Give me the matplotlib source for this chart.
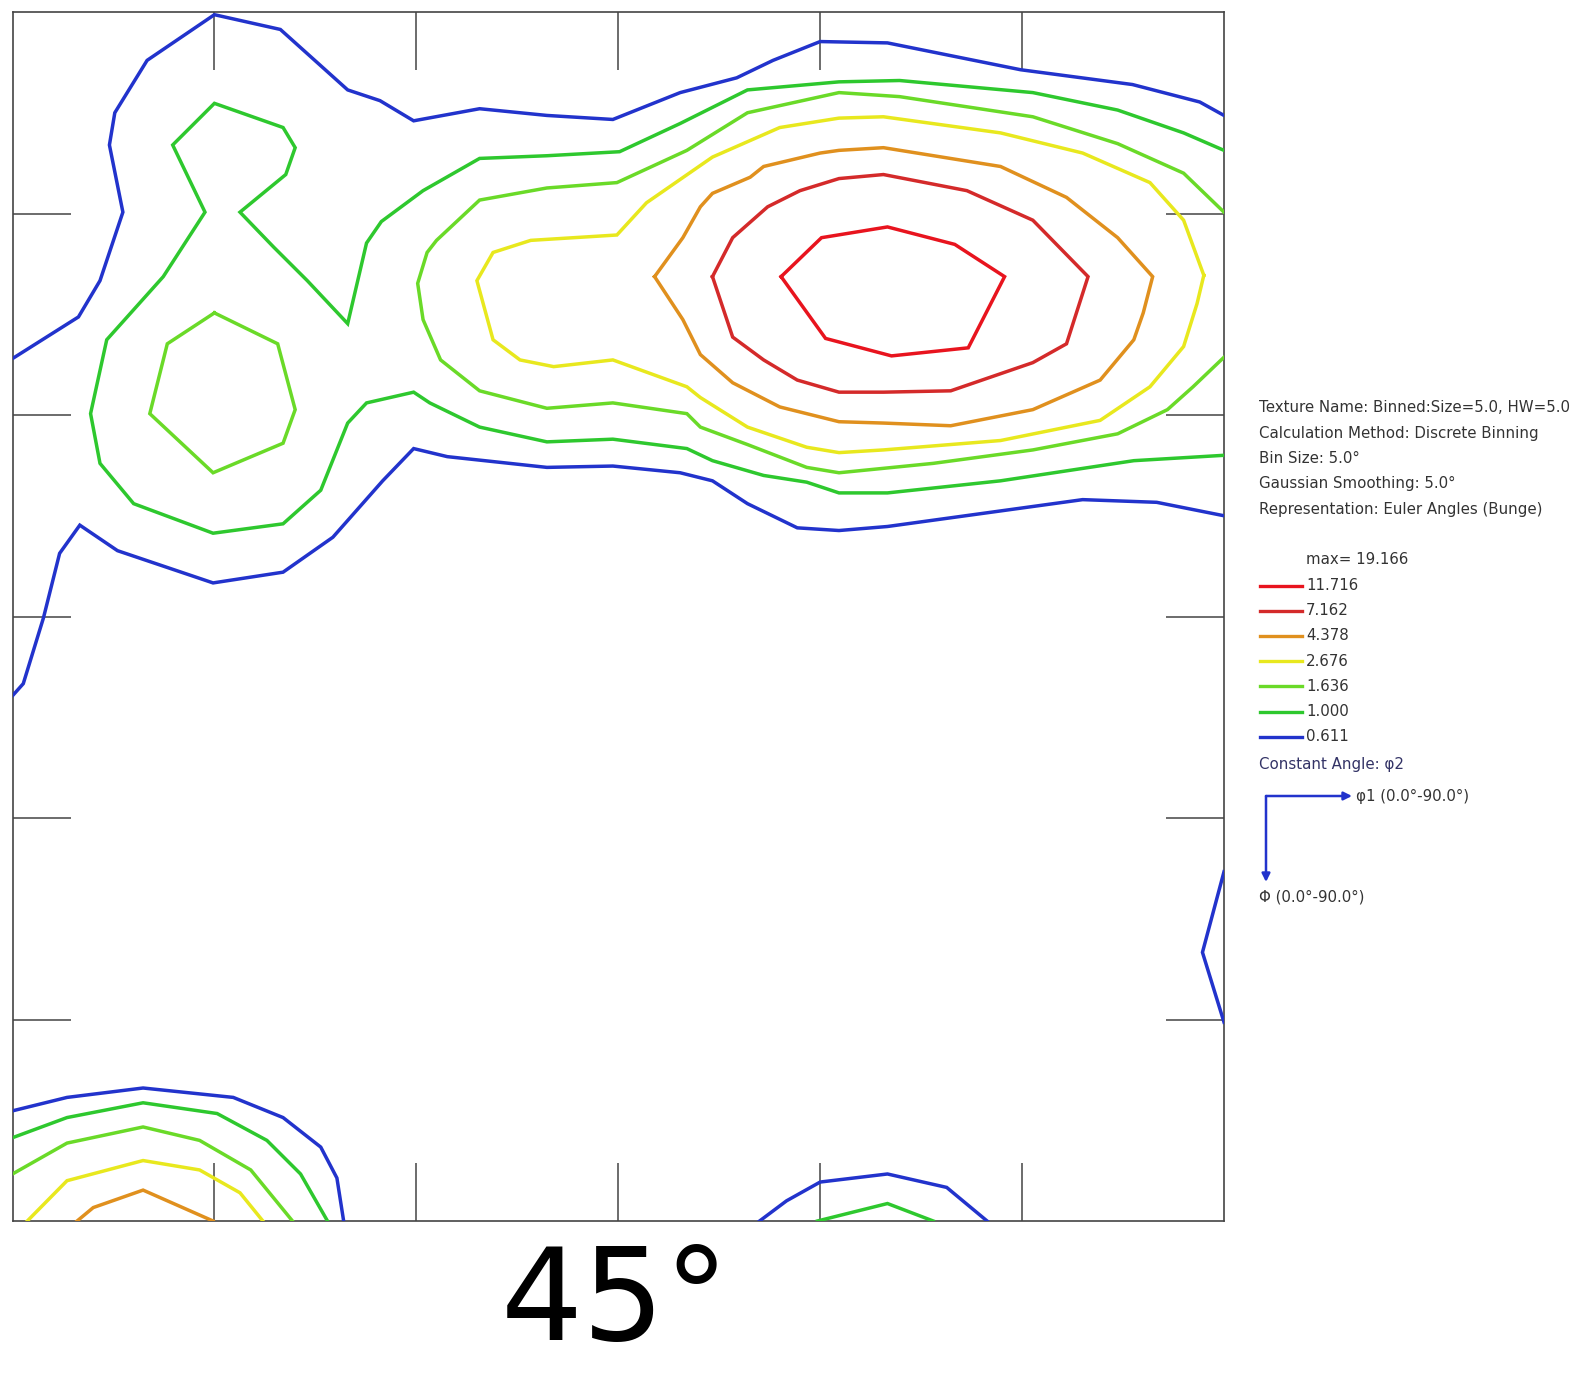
import matplotlib
matplotlib.use("Agg")
import matplotlib.pyplot as plt
from matplotlib.lines import Line2D
from matplotlib.patches import FancyArrowPatch

plt.rcParams["font.family"] = ["DejaVu Sans"]

W, H = 1580, 1373

# contour levels (multiples of random) and their colours
levels = [11.716, 7.162, 4.378, 2.676, 1.636, 1.000, 0.611]
level_colors = ["#e8141e", "#d42a2a", "#e0901e", "#e8e81e", "#6ada28", "#2ec82e", "#2233cc"]
max_value = 19.166

# phi2 = 45 deg section; each contour is (phi1 list, Phi list) in degrees
blue_top_phi1 = [0, 4.9, 6.5, 8.2, 7.2, 7.6, 10.0, 15.0, 19.9, 24.9, 27.3, 29.8, 34.7, 39.7, 44.6, 49.6, 53.8, 56.5, 60.0, 65.0, 74.9, 83.2, 88.2, 90]
blue_top_Phi = [25.8, 22.7, 20.0, 14.9, 9.9, 7.5, 3.6, 0.2, 1.3, 5.8, 6.6, 8.1, 7.2, 7.7, 8.0, 6.0, 4.9, 3.6, 2.2, 2.3, 4.3, 5.4, 6.7, 7.7]

blue_mid_phi1 = [0, 0.8, 2.3, 3.5, 5.0, 7.8, 14.9, 20.1, 23.8, 27.5, 29.8, 32.3, 39.7, 44.6, 49.6, 52.0, 54.6, 58.3, 61.4, 65.0, 79.5, 85.0, 90]
blue_mid_Phi = [50.9, 50.0, 45.1, 40.3, 38.2, 40.1, 42.5, 41.7, 39.1, 34.9, 32.5, 33.1, 33.9, 33.8, 34.3, 34.9, 36.6, 38.4, 38.6, 38.3, 36.3, 36.5, 37.5]

blue_right_phi1 = [90, 88.4, 90]
blue_right_Phi = [64.0, 70.0, 75.2]

blue_corner_phi1 = [0, 4.05, 9.7, 16.4, 20.1, 22.9, 24.1, 24.6]
blue_corner_Phi = [81.8, 80.8, 80.1, 80.8, 82.3, 84.5, 86.8, 90]

blue_bottom_phi1 = [55.5, 57.5, 60.0, 65.0, 69.4, 72.4]
blue_bottom_Phi = [90, 88.5, 87.1, 86.5, 87.5, 90]

green_main_phi1 = [90, 87.0, 82.1, 75.8, 65.9, 61.4, 54.6, 49.6, 45.1, 39.7, 34.7, 30.5, 27.4, 26.3, 24.9,
                   21.9, 19.4, 16.9, 20.3, 21.0, 20.1, 15.0, 11.9, 14.3, 11.2, 7.0, 5.8, 6.5, 9.0,
                   14.9, 20.1, 22.9, 24.9, 26.3, 29.8, 31.0, 34.7, 39.7, 44.6, 50.1, 52.0, 55.8,
                   59.0, 61.4, 65.0, 73.4, 83.3, 90]
green_main_Phi = [10.3, 9.0, 7.3, 6.0, 5.1, 5.2, 5.8, 8.3, 10.4, 10.7, 10.9, 13.3, 15.6, 17.2, 23.2,
                  20.0, 17.5, 14.9, 12.1, 10.1, 8.6, 6.8, 9.9, 14.9, 19.7, 24.4, 29.9, 33.6, 36.6,
                  38.8, 38.1, 35.6, 30.6, 29.1, 28.3, 29.1, 30.9, 32.0, 31.8, 32.5, 33.4, 34.5,
                  35.0, 35.8, 35.8, 34.9, 33.4, 33.0]

green_corner_phi1 = [0, 4.05, 9.7, 15.2, 18.9, 21.4, 23.4]
green_corner_Phi = [83.8, 82.3, 81.2, 82.0, 84.0, 86.5, 90]

green_bottom_phi1 = [59.8, 65.0, 68.4]
green_bottom_Phi = [90, 88.7, 90]

lime_main_phi1 = [90, 87.0, 82.1, 75.8, 65.9, 61.4, 54.6, 50.1, 44.9, 39.7, 34.7, 31.5, 30.8, 30.1,
                  30.5, 31.8, 34.7, 39.7, 44.6, 50.1, 51.1, 54.6, 59.0, 61.4, 68.4, 75.8, 82.1,
                  85.8, 87.7, 90]
lime_main_Phi = [14.9, 12.0, 9.8, 7.8, 6.3, 6.0, 7.5, 10.3, 12.7, 13.1, 14.0, 17.0, 17.9, 20.2,
                 22.9, 25.9, 28.2, 29.5, 29.1, 29.9, 30.9, 32.2, 33.9, 34.3, 33.6, 32.6, 31.4,
                 29.6, 27.9, 25.7]

lime_ring_phi1 = [15.0, 19.7, 21.0, 20.1, 14.9, 10.2, 11.5, 15.0]
lime_ring_Phi = [22.4, 24.7, 29.6, 32.1, 34.3, 29.9, 24.7, 22.4]

lime_corner_phi1 = [0, 4.05, 9.7, 13.9, 17.7, 20.8]
lime_corner_Phi = [86.5, 84.2, 83.0, 84.0, 86.2, 90]

yellow_main_phi1 = [88.5, 87.0, 84.5, 79.5, 73.4, 64.7, 61.4, 57.0, 52.0, 47.1, 44.9, 38.5, 35.7,
                    34.5, 35.7, 37.7, 40.2, 44.6, 50.1, 51.1, 54.6, 59.0, 61.4, 64.7, 73.4, 80.8,
                    84.5, 87.0, 88.0, 88.5]
yellow_main_Phi = [19.6, 15.5, 12.7, 10.5, 9.0, 7.8, 7.9, 8.6, 10.8, 14.2, 16.6, 17.0, 17.9,
                   20.0, 24.4, 25.9, 26.4, 25.9, 27.9, 28.7, 30.9, 32.4, 32.8, 32.6, 31.9, 30.4,
                   27.9, 24.9, 21.7, 19.6]

yellow_corner_phi1 = [1.1, 4.05, 9.7, 13.9, 16.9, 18.6]
yellow_corner_Phi = [90, 87.0, 85.5, 86.2, 87.9, 90]

orange_main_phi1 = [47.7, 49.8, 51.1, 52.0, 54.8, 55.8, 60.0, 61.4, 64.7, 73.4, 78.3, 82.1, 84.7,
                    84.0, 83.3, 80.8, 75.8, 69.7, 64.7, 61.4, 57.0, 53.5, 51.1, 49.8, 47.7]
orange_main_Phi = [19.7, 16.8, 14.5, 13.5, 12.3, 11.5, 10.5, 10.3, 10.1, 11.5, 13.8, 16.8, 19.7,
                   22.4, 24.4, 27.4, 29.6, 30.8, 30.6, 30.5, 29.4, 27.6, 25.5, 22.9, 19.7]

orange_corner_phi1 = [4.8, 6.0, 9.7, 14.9]
orange_corner_Phi = [90, 89.0, 87.7, 90]

red_outer_phi1 = [52.0, 53.5, 56.1, 58.5, 61.4, 64.7, 70.9, 75.8, 79.9, 78.3, 75.8, 69.7, 64.7,
                  61.4, 58.3, 55.8, 53.5, 52.0]
red_outer_Phi = [19.7, 16.8, 14.5, 13.3, 12.4, 12.1, 13.3, 15.5, 19.7, 24.7, 26.1, 28.2, 28.3,
                 28.3, 27.4, 25.9, 24.2, 19.7]

red_inner_phi1 = [57.1, 60.1, 65.0, 70.0, 73.7, 71.0, 65.3, 60.4, 57.1]
red_inner_Phi = [19.7, 16.8, 16.0, 17.3, 19.7, 25.0, 25.6, 24.3, 19.7]

contour_lines = [
    (0.611, blue_top_phi1, blue_top_Phi),
    (0.611, blue_mid_phi1, blue_mid_Phi),
    (0.611, blue_right_phi1, blue_right_Phi),
    (0.611, blue_corner_phi1, blue_corner_Phi),
    (0.611, blue_bottom_phi1, blue_bottom_Phi),
    (1.000, green_main_phi1, green_main_Phi),
    (1.000, green_corner_phi1, green_corner_Phi),
    (1.000, green_bottom_phi1, green_bottom_Phi),
    (1.636, lime_main_phi1, lime_main_Phi),
    (1.636, lime_ring_phi1, lime_ring_Phi),
    (1.636, lime_corner_phi1, lime_corner_Phi),
    (2.676, yellow_main_phi1, yellow_main_Phi),
    (2.676, yellow_corner_phi1, yellow_corner_Phi),
    (4.378, orange_main_phi1, orange_main_Phi),
    (4.378, orange_corner_phi1, orange_corner_Phi),
    (7.162, red_outer_phi1, red_outer_Phi),
    (11.716, red_inner_phi1, red_inner_Phi),
]

info_lines = [
    "Texture Name: Binned:Size=5.0, HW=5.0",
    "Calculation Method: Discrete Binning",
    "Bin Size: 5.0°",
    "Gaussian Smoothing: 5.0°",
    "Representation: Euler Angles (Bunge)",
]
section_label = "45°"


def fx(px):
    return px / W


def fy(py):
    return 1 - py / H


fig = plt.figure(figsize=(W / 100, H / 100), dpi=100)
ax = fig.add_axes([fx(12.5), fy(1221), fx(1224) - fx(12.5), fy(12) - fy(1221)])

color_of = dict(zip(levels, level_colors))
for level, xs, ys in contour_lines:
    ax.plot(xs, ys, color=color_of[level], lw=2.5, solid_joinstyle="miter", zorder=3)

ax.set_xlim(0, 90)
ax.set_ylim(90, 0)
ticks = [15, 30, 45, 60, 75]
ax.set_xticks(ticks)
ax.set_yticks(ticks)
ax.tick_params(which="both", direction="in", length=42, width=1.1, color="#444444",
               top=True, right=True, labelbottom=False, labelleft=False)
for sp in ax.spines.values():
    sp.set_color("#444444")
    sp.set_linewidth(1.2)

# info block
txt_kw = dict(fontsize=10.8, color="#333333", va="center", ha="left")
for i, line in enumerate(info_lines):
    fig.text(fx(1259), fy(408 + i * 25.3), line, **txt_kw)

fig.text(fx(1306), fy(560), f"max= {max_value:.3f}", **txt_kw)
for i, (level, col) in enumerate(zip(levels, level_colors)):
    y = fy(585.5 + i * 25.2)
    fig.add_artist(Line2D([fx(1260), fx(1302)], [y, y], color=col, lw=2.4,
                          transform=fig.transFigure))
    fig.text(fx(1306), y, f"{level:.3f}", **txt_kw)

fig.text(fx(1259), fy(764), "Constant Angle: φ2", fontsize=10.8, color="#333366",
         va="center", ha="left")

# axis direction arrows
ox, oy = fx(1266), fy(796)
fig.add_artist(FancyArrowPatch((ox, oy), (fx(1352), oy), arrowstyle="-|>", mutation_scale=12,
                               color="#2233cc", lw=1.8, transform=fig.transFigure,
                               shrinkA=0, shrinkB=0))
fig.add_artist(FancyArrowPatch((ox, oy), (ox, fy(882)), arrowstyle="-|>", mutation_scale=12,
                               color="#2233cc", lw=1.8, transform=fig.transFigure,
                               shrinkA=0, shrinkB=0))
fig.text(fx(1356), oy, "φ1 (0.0°-90.0°)", **txt_kw)
fig.text(fx(1259), fy(897), "Φ (0.0°-90.0°)", **txt_kw)

fig.text(fx(615), fy(1340), section_label, fontsize=93, color="black",
         ha="center", va="baseline")

fig.savefig("out.png", dpi=100, facecolor="white")
